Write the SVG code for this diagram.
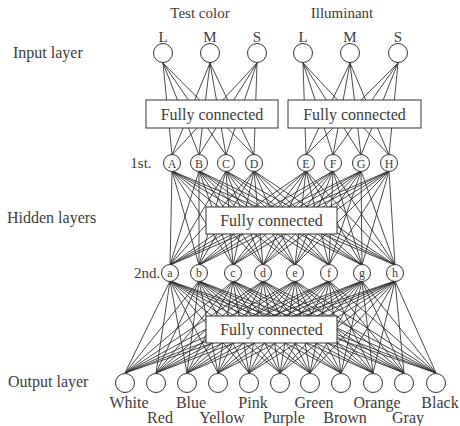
<svg xmlns="http://www.w3.org/2000/svg" width="460" height="426" viewBox="0 0 460 426" font-family="'Liberation Serif', 'Times New Roman', serif">
<style>
text{font-family:'Liberation Serif','Times New Roman',serif;fill:#3c3c3c;}
.lbl{font-family:'Liberation Serif',serif;font-size:16px;}
.hd{font-family:'Liberation Serif',serif;font-size:15px;text-anchor:middle;}
.in{font-family:'Liberation Serif',serif;font-size:15px;text-anchor:middle;}
.nl{font-family:'Liberation Serif',serif;font-size:12px;text-anchor:middle;}
.ol{font-family:'Liberation Serif',serif;font-size:16px;text-anchor:middle;}
.fc{font-family:'Liberation Serif',serif;font-size:16px;text-anchor:middle;}
.c{fill:#fff;stroke:#333;stroke-width:1;}
.box{fill:#fff;stroke:#333;stroke-width:1;}
.ln{fill:none;stroke:#2a2a2a;stroke-width:0.85;}
</style>
<rect width="460" height="426" fill="#fff"/>
<g id="connectors">
<path class="ln" d="M163,63L172,155M163,63L199,155M163,63L226,155M163,63L254,155M210,63L172,155M210,63L199,155M210,63L226,155M210,63L254,155M257,63L172,155M257,63L199,155M257,63L226,155M257,63L254,155"/>
<path class="ln" d="M303,63L306,155M303,63L333,155M303,63L361,155M303,63L389,155M350,63L306,155M350,63L333,155M350,63L361,155M350,63L389,155M398,63L306,155M398,63L333,155M398,63L361,155M398,63L389,155"/>
<path class="ln" d="M172,171L170,265M172,171L199,265M172,171L233,265M172,171L263,265M172,171L295,265M172,171L329,265M172,171L362,265M172,171L395,265"/>
<path class="ln" d="M199,171L170,265M199,171L199,265M199,171L233,265M199,171L263,265M199,171L295,265M199,171L329,265M199,171L362,265M199,171L395,265"/>
<path class="ln" d="M226,171L170,265M226,171L199,265M226,171L233,265M226,171L263,265M226,171L295,265M226,171L329,265M226,171L362,265M226,171L395,265"/>
<path class="ln" d="M254,171L170,265M254,171L199,265M254,171L233,265M254,171L263,265M254,171L295,265M254,171L329,265M254,171L362,265M254,171L395,265"/>
<path class="ln" d="M306,171L170,265M306,171L199,265M306,171L233,265M306,171L263,265M306,171L295,265M306,171L329,265M306,171L362,265M306,171L395,265"/>
<path class="ln" d="M333,171L170,265M333,171L199,265M333,171L233,265M333,171L263,265M333,171L295,265M333,171L329,265M333,171L362,265M333,171L395,265"/>
<path class="ln" d="M361,171L170,265M361,171L199,265M361,171L233,265M361,171L263,265M361,171L295,265M361,171L329,265M361,171L362,265M361,171L395,265"/>
<path class="ln" d="M389,171L170,265M389,171L199,265M389,171L233,265M389,171L263,265M389,171L295,265M389,171L329,265M389,171L362,265M389,171L395,265"/>
<path class="ln" d="M170,281L125,373M170,281L156,373M170,281L187,373M170,281L218,373M170,281L249,373M170,281L280,373M170,281L310,373M170,281L341,373M170,281L373,373M170,281L404,373M170,281L436,373"/>
<path class="ln" d="M199,281L125,373M199,281L156,373M199,281L187,373M199,281L218,373M199,281L249,373M199,281L280,373M199,281L310,373M199,281L341,373M199,281L373,373M199,281L404,373M199,281L436,373"/>
<path class="ln" d="M233,281L125,373M233,281L156,373M233,281L187,373M233,281L218,373M233,281L249,373M233,281L280,373M233,281L310,373M233,281L341,373M233,281L373,373M233,281L404,373M233,281L436,373"/>
<path class="ln" d="M263,281L125,373M263,281L156,373M263,281L187,373M263,281L218,373M263,281L249,373M263,281L280,373M263,281L310,373M263,281L341,373M263,281L373,373M263,281L404,373M263,281L436,373"/>
<path class="ln" d="M295,281L125,373M295,281L156,373M295,281L187,373M295,281L218,373M295,281L249,373M295,281L280,373M295,281L310,373M295,281L341,373M295,281L373,373M295,281L404,373M295,281L436,373"/>
<path class="ln" d="M329,281L125,373M329,281L156,373M329,281L187,373M329,281L218,373M329,281L249,373M329,281L280,373M329,281L310,373M329,281L341,373M329,281L373,373M329,281L404,373M329,281L436,373"/>
<path class="ln" d="M362,281L125,373M362,281L156,373M362,281L187,373M362,281L218,373M362,281L249,373M362,281L280,373M362,281L310,373M362,281L341,373M362,281L373,373M362,281L404,373M362,281L436,373"/>
<path class="ln" d="M395,281L125,373M395,281L156,373M395,281L187,373M395,281L218,373M395,281L249,373M395,281L280,373M395,281L310,373M395,281L341,373M395,281L373,373M395,281L404,373M395,281L436,373"/>
</g>
<g id="labels">
<text class="lbl" x="13" y="58">Input layer</text>
<text class="lbl" x="7" y="223">Hidden layers</text>
<text class="lbl" x="8" y="387">Output layer</text>
<text class="hd" x="200" y="18">Test color</text>
<text class="hd" x="342" y="18">Illuminant</text>
<text class="hd" x="141" y="168">1st.</text>
<text class="hd" x="147" y="278">2nd.</text>
</g>
<g id="fc1"><rect class="box" x="146" y="100" width="132" height="28"/><text class="fc" x="212" y="120">Fully connected</text></g>
<g id="fc2"><rect class="box" x="288" y="100" width="133" height="28"/><text class="fc" x="354.5" y="120">Fully connected</text></g>
<g id="fc3"><rect class="box" x="206" y="207" width="131" height="27"/><text class="fc" x="271.5" y="226">Fully connected</text></g>
<g id="fc4"><rect class="box" x="206" y="316" width="131" height="27"/><text class="fc" x="271.5" y="335">Fully connected</text></g>
<g id="in-tL"><circle class="c" cx="163" cy="53" r="9.5"/><text class="in" x="163" y="42">L</text></g>
<g id="in-tM"><circle class="c" cx="210" cy="53" r="9.5"/><text class="in" x="210" y="42">M</text></g>
<g id="in-tS"><circle class="c" cx="257" cy="53" r="9.5"/><text class="in" x="257" y="42">S</text></g>
<g id="in-iL"><circle class="c" cx="303" cy="53" r="9.5"/><text class="in" x="303" y="42">L</text></g>
<g id="in-iM"><circle class="c" cx="350" cy="53" r="9.5"/><text class="in" x="350" y="42">M</text></g>
<g id="in-iS"><circle class="c" cx="398" cy="53" r="9.5"/><text class="in" x="398" y="42">S</text></g>
<g id="h1-A"><circle class="c" cx="172" cy="163" r="8.5"/><text class="nl" x="172" y="167.5">A</text></g>
<g id="h1-B"><circle class="c" cx="199" cy="163" r="8.5"/><text class="nl" x="199" y="167.5">B</text></g>
<g id="h1-C"><circle class="c" cx="226" cy="163" r="8.5"/><text class="nl" x="226" y="167.5">C</text></g>
<g id="h1-D"><circle class="c" cx="254" cy="163" r="8.5"/><text class="nl" x="254" y="167.5">D</text></g>
<g id="h1-E"><circle class="c" cx="306" cy="163" r="8.5"/><text class="nl" x="306" y="167.5">E</text></g>
<g id="h1-F"><circle class="c" cx="333" cy="163" r="8.5"/><text class="nl" x="333" y="167.5">F</text></g>
<g id="h1-G"><circle class="c" cx="361" cy="163" r="8.5"/><text class="nl" x="361" y="167.5">G</text></g>
<g id="h1-H"><circle class="c" cx="389" cy="163" r="8.5"/><text class="nl" x="389" y="167.5">H</text></g>
<g id="h2-a"><circle class="c" cx="170" cy="273" r="8.5"/><text class="nl" x="170" y="277">a</text></g>
<g id="h2-b"><circle class="c" cx="199" cy="273" r="8.5"/><text class="nl" x="199" y="277">b</text></g>
<g id="h2-c"><circle class="c" cx="233" cy="273" r="8.5"/><text class="nl" x="233" y="277">c</text></g>
<g id="h2-d"><circle class="c" cx="263" cy="273" r="8.5"/><text class="nl" x="263" y="277">d</text></g>
<g id="h2-e"><circle class="c" cx="295" cy="273" r="8.5"/><text class="nl" x="295" y="277">e</text></g>
<g id="h2-f"><circle class="c" cx="329" cy="273" r="8.5"/><text class="nl" x="329" y="277">f</text></g>
<g id="h2-g"><circle class="c" cx="362" cy="273" r="8.5"/><text class="nl" x="362" y="277">g</text></g>
<g id="h2-h"><circle class="c" cx="395" cy="273" r="8.5"/><text class="nl" x="395" y="277">h</text></g>
<g id="out-white"><circle class="c" cx="125" cy="383" r="9.5"/><text class="ol" x="129" y="408">White</text></g>
<g id="out-red"><circle class="c" cx="156" cy="383" r="9.5"/><text class="ol" x="160" y="423">Red</text></g>
<g id="out-blue"><circle class="c" cx="187" cy="383" r="9.5"/><text class="ol" x="191" y="408">Blue</text></g>
<g id="out-yellow"><circle class="c" cx="218" cy="383" r="9.5"/><text class="ol" x="222" y="423">Yellow</text></g>
<g id="out-pink"><circle class="c" cx="249" cy="383" r="9.5"/><text class="ol" x="253" y="408">Pink</text></g>
<g id="out-purple"><circle class="c" cx="280" cy="383" r="9.5"/><text class="ol" x="284" y="423">Purple</text></g>
<g id="out-green"><circle class="c" cx="310" cy="383" r="9.5"/><text class="ol" x="314" y="408">Green</text></g>
<g id="out-brown"><circle class="c" cx="341" cy="383" r="9.5"/><text class="ol" x="345" y="423">Brown</text></g>
<g id="out-orange"><circle class="c" cx="373" cy="383" r="9.5"/><text class="ol" x="377" y="408">Orange</text></g>
<g id="out-gray"><circle class="c" cx="404" cy="383" r="9.5"/><text class="ol" x="408" y="423">Gray</text></g>
<g id="out-black"><circle class="c" cx="436" cy="383" r="9.5"/><text class="ol" x="440" y="408">Black</text></g>
</svg>
